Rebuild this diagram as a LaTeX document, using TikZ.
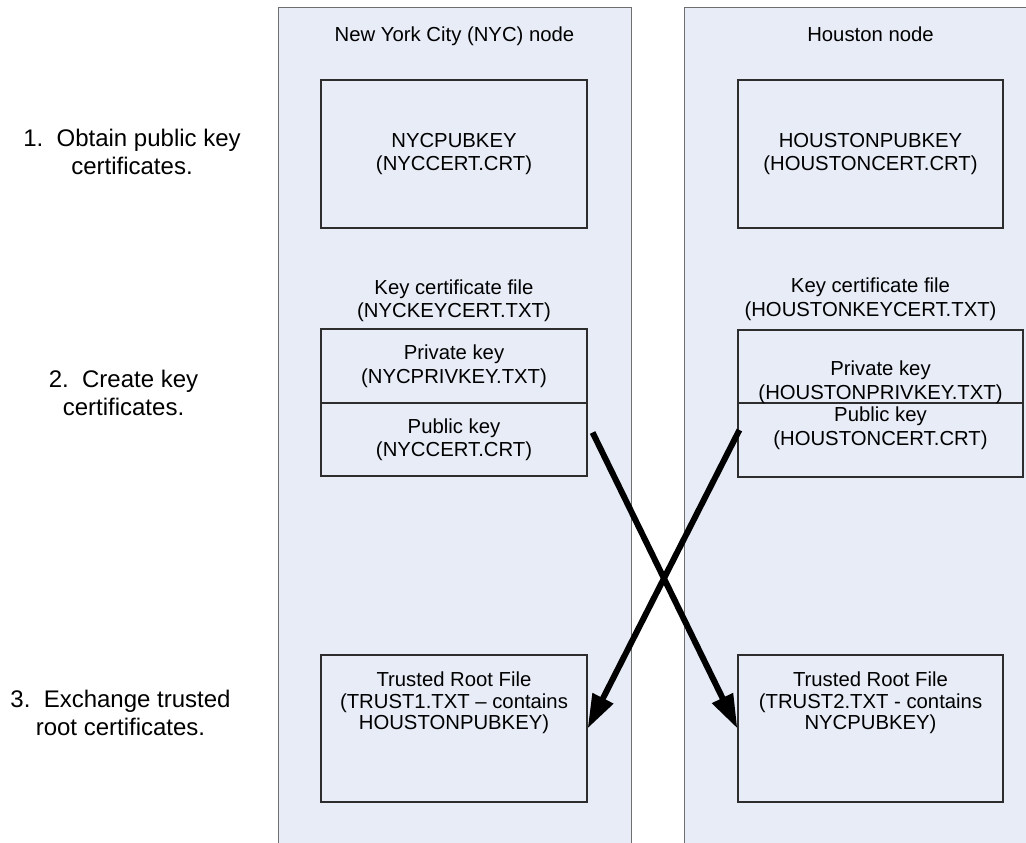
\documentclass[tikz,border=0pt]{standalone}
\usepackage{fontspec}
\setmainfont{Liberation Sans}
\usetikzlibrary{arrows.meta,positioning}

\definecolor{panelfill}{RGB}{231,236,247}
\definecolor{panelline}{RGB}{110,110,110}
\definecolor{boxline}{RGB}{45,45,45}

\newcommand{\boxfont}{\fontsize{20.3}{23.5}\selectfont}
\newcommand{\trustfont}{\fontsize{20.3}{21.8}\selectfont}
\newcommand{\stagefont}{\fontsize{24}{27.5}\selectfont}

\tikzset{
  panel/.style={draw=panelline, fill=panelfill, line width=1.2pt, anchor=north west,
    minimum width=353pt, minimum height=860pt, inner sep=0pt},
  filebox/.style={draw=boxline, line width=1.2pt, minimum width=266pt, inner sep=0pt,
    align=center, font=\boxfont},
  txt/.style={inner sep=0pt, align=center, font=\boxfont},
  trusttxt/.style={inner sep=0pt, align=center, font=\trustfont},
  stagetxt/.style={inner sep=0pt, align=center, font=\stagefont},
  xfer/.style={line width=6pt, -{Triangle[length=34pt,width=22pt]}},
}

\begin{document}
\begin{tikzpicture}[x=1pt, y=-1pt]
  \clip (0,0) rectangle (1026,843);

  % the two node columns
  \node[panel] (nycpanel) at (278,7) {};
  \node[panel, minimum width=373pt] (hpanel) at (684,7) {};
  \node[txt, anchor=base] (nyctitle) at (454.5,42) {New York City (NYC) node};
  \node[txt, anchor=base] (htitle) at (870.5,42) {Houston node};

  % step 1
  \node[filebox, minimum height=148pt] (nycpubkey) at (454,154) {NYCPUBKEY\\(NYCCERT.CRT)};
  \node[filebox, minimum width=265pt, minimum height=148pt] (hpubkey) at (870.5,154) {HOUSTONPUBKEY\\(HOUSTONCERT.CRT)};

  % step 2
  \node[txt] (nyckeyfile) at (454,300.5) {Key certificate file\\(NYCKEYCERT.TXT)};
  \node[txt] (hkeyfile) at (870.5,299) {Key certificate file\\(HOUSTONKEYCERT.TXT)};
  \node[filebox, minimum height=74pt] (nycpriv) at (454,366) {Private key\\(NYCPRIVKEY.TXT)};
  \node[filebox, minimum height=73pt] (nycpub) at (454,439.5) {Public key\\(NYCCERT.CRT)};
  \node[filebox, minimum width=285pt, minimum height=73pt] (hpriv) at (880.5,366.5) {};
  \node[filebox, minimum width=285pt, minimum height=74pt] (hpub) at (880.5,440) {};
  \node[txt, anchor=south] (hprivtxt) at (hpriv.south) {Private key\\(HOUSTONPRIVKEY.TXT)};
  \node[txt, below=4.5pt of hpub.north] (hpubtxt) {Public key\\(HOUSTONCERT.CRT)};

  % step 3
  \node[filebox, minimum height=147pt] (nyctrust) at (454,728.5) {};
  \node[filebox, minimum width=265pt, minimum height=147pt] (htrust) at (870.5,728.5) {};
  \node[trusttxt, below=17pt of nyctrust.north] (nyctrusttxt) {Trusted Root File\\(TRUST1.TXT – contains\\HOUSTONPUBKEY)};
  \node[trusttxt, below=17pt of htrust.north] (htrusttxt) {Trusted Root File\\(TRUST2.TXT - contains\\NYCPUBKEY)};

  % stage labels
  \node[stagetxt] (stage1) at (132,152) {1.~~Obtain public key\\certificates.};
  \node[stagetxt] (stage2) at (123.5,393) {2.~~Create key\\certificates.};
  \node[stagetxt] (stage3) at (120.5,713) {3.~~Exchange trusted\\root certificates.};

  % exchange of public keys
  \draw[xfer] ([xshift=5pt, yshift=7pt]nycpub.east) -- (htrust.west);
  \draw[xfer] ([xshift=2pt, yshift=10pt]hpub.west) -- (nyctrust.east);
\end{tikzpicture}
\end{document}
